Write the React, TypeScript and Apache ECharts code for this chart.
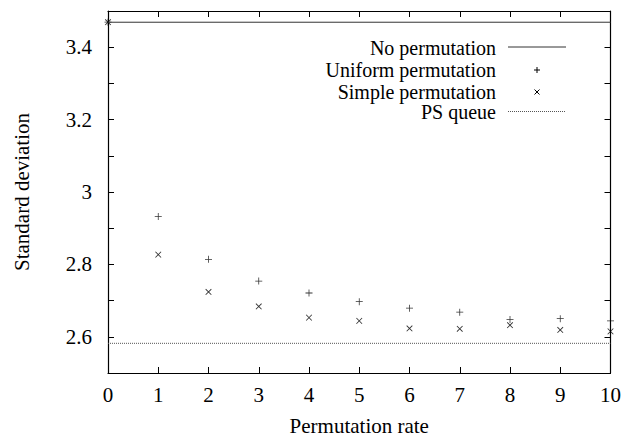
import React, { useEffect, useRef } from "react";
import * as echarts from "echarts";

const rates = [0, 1, 2, 3, 4, 5, 6, 7, 8, 9, 10];
const uniformPerm = [3.469, 2.932, 2.814, 2.754, 2.721, 2.697, 2.679, 2.668, 2.648, 2.65, 2.644];
const simplePerm = [3.469, 2.827, 2.724, 2.684, 2.653, 2.644, 2.623, 2.622, 2.632, 2.619, 2.615];
const noPermValue = 3.469;
const psQueueValue = 2.582;
const legendNames = ["No permutation", "Uniform permutation", "Simple permutation", "PS queue"];
const yTickLabels = ["2.6", "2.8", "3", "3.2", "3.4"];

const FONT = "Liberation Serif";
const FS = 21;
const LFS = 20;
const PLUS = "path://M4,0 L5,0 L5,9 L4,9 Z M0,4 L9,4 L9,5 L0,5 Z";

export default function App() {
  const ref = useRef<HTMLDivElement>(null);
  useEffect(() => {
    document.body.style.margin = "0";
    if (!ref.current) return;
    const chart = echarts.init(ref.current, null, { renderer: "svg" });
    const axisLine = { show: true, onZero: false, lineStyle: { color: "#000", width: 1.2 } };
    const axisTick = { show: true, inside: true, length: 6, lineStyle: { color: "#000" } };
    const txt = (text: string, y: number) => ({
      type: "text",
      x: 496,
      y,
      style: { text, fontFamily: FONT, fontSize: LFS, fill: "#000", align: "right", verticalAlign: "middle" },
    });
    const option: any = {
      animation: false,
      grid: { left: 108, right: 12, top: 11, bottom: 67, containLabel: false },
      xAxis: [
        {
          type: "value",
          min: 0,
          max: 10,
          interval: 1,
          position: "bottom",
          axisLine,
          axisTick,
          splitLine: { show: false },
          axisLabel: { color: "#000", fontFamily: FONT, fontSize: FS, margin: 11 },
          name: "Permutation rate",
          nameLocation: "middle",
          nameGap: 42,
          nameTextStyle: { color: "#000", fontFamily: FONT, fontSize: FS },
        },
        {
          type: "value",
          min: 0,
          max: 10,
          interval: 1,
          position: "top",
          axisLine,
          axisTick,
          splitLine: { show: false },
          axisLabel: { show: false },
        },
      ],
      yAxis: [
        {
          type: "value",
          min: 2.5,
          max: 3.5,
          interval: 0.1,
          position: "left",
          axisLine,
          axisTick,
          splitLine: { show: false },
          axisLabel: {
            color: "#000",
            fontFamily: FONT,
            fontSize: FS,
            margin: 16,
            formatter: (v: number) => {
              const s = String(Math.round(v * 10) / 10);
              return yTickLabels.includes(s) ? s : "";
            },
          },
          name: "Standard deviation",
          nameLocation: "middle",
          nameGap: 76,
          nameRotate: 90,
          nameTextStyle: { color: "#000", fontFamily: FONT, fontSize: FS },
        },
        {
          type: "value",
          min: 2.5,
          max: 3.5,
          interval: 0.1,
          position: "right",
          axisLine,
          axisTick,
          splitLine: { show: false },
          axisLabel: { show: false },
        },
      ],
      series: [
        {
          name: legendNames[0],
          type: "line",
          data: [[0, noPermValue], [10, noPermValue]],
          showSymbol: false,
          lineStyle: { color: "#333", width: 1 },
        },
        {
          name: legendNames[1],
          type: "scatter",
          data: rates.map((r, i) => [r, uniformPerm[i]]),
          symbol: PLUS,
          symbolSize: 7,
          itemStyle: { color: "#000" },
        },
        {
          name: legendNames[2],
          type: "scatter",
          data: rates.map((r, i) => [r, simplePerm[i]]),
          symbol: PLUS,
          symbolSize: 8,
          symbolRotate: 45,
          itemStyle: { color: "#000" },
        },
        {
          name: legendNames[3],
          type: "line",
          data: [[0, psQueueValue], [10, psQueueValue]],
          showSymbol: false,
          lineStyle: { color: "#555", width: 1, type: [1, 1] },
        },
        {
          type: "line",
          xAxisIndex: 1,
          yAxisIndex: 1,
          data: [],
          showSymbol: false,
          silent: true,
        },
      ],
      graphic: [
        txt(legendNames[0], 48),
        { type: "line", shape: { x1: 508, y1: 47, x2: 566, y2: 47 }, style: { stroke: "#333", lineWidth: 1 } },
        txt(legendNames[1], 70),
        { type: "line", shape: { x1: 537, y1: 67, x2: 537, y2: 73 }, style: { stroke: "#000", lineWidth: 1 } },
        { type: "line", shape: { x1: 534, y1: 70, x2: 540, y2: 70 }, style: { stroke: "#000", lineWidth: 1 } },
        txt(legendNames[2], 91.5),
        { type: "line", shape: { x1: 534.5, y1: 89.5, x2: 539.5, y2: 94.5 }, style: { stroke: "#000", lineWidth: 1 } },
        { type: "line", shape: { x1: 539.5, y1: 89.5, x2: 534.5, y2: 94.5 }, style: { stroke: "#000", lineWidth: 1 } },
        txt(legendNames[3], 112),
        { type: "line", shape: { x1: 508, y1: 111.5, x2: 566, y2: 111.5 }, style: { stroke: "#555", lineWidth: 1, lineDash: [1, 1] } },
      ],
    };
    chart.setOption(option);
    return () => chart.dispose();
  }, []);
  return <div ref={ref} style={{ width: 624, height: 441, background: "#fff" }} />;
}
